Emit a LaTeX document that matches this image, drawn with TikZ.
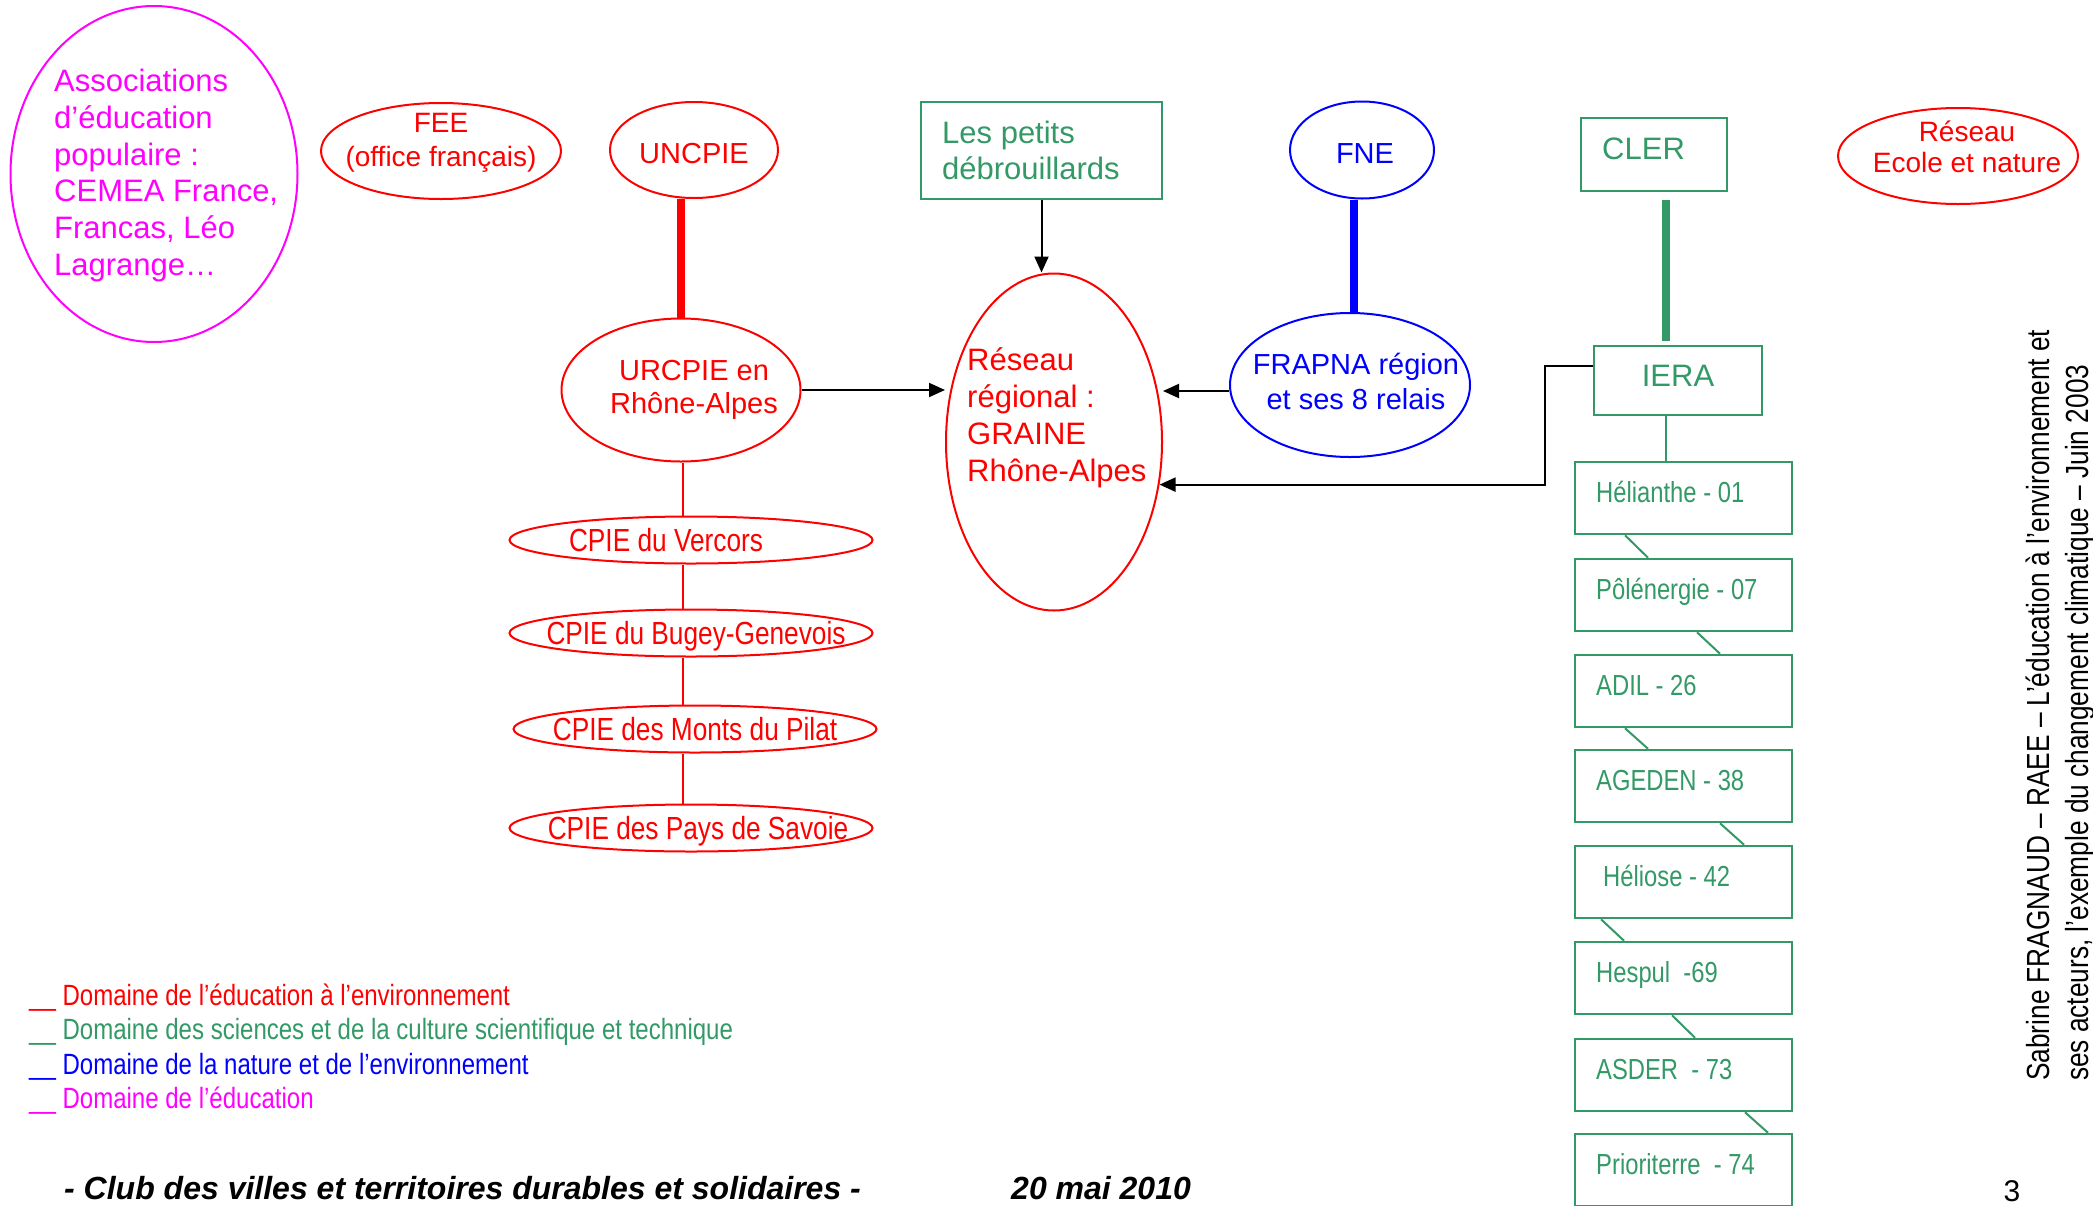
\documentclass[tikz,border=0pt]{standalone}
\usepackage{fontspec}
\setmainfont{Liberation Sans}
\newfontfamily\nar[FakeStretch=0.82]{Liberation Sans}
\usetikzlibrary{shapes.geometric,arrows.meta,calc}
\definecolor{cred}{HTML}{FF0000}
\definecolor{cmag}{HTML}{FF00FF}
\definecolor{cblue}{HTML}{0000FF}
\definecolor{cgrn}{HTML}{339966}
\begin{document}
\begin{tikzpicture}[x=1pt,y=-1pt,
  ell/.style={ellipse, draw, line width=2pt, inner sep=0pt},
  gbox/.style={rectangle, draw=cgrn, line width=2.5pt, inner sep=0pt},
  sbox/.style={gbox, minimum width=217pt, minimum height=72pt},
  txt/.style={inner sep=0pt},
  btxt/.style={txt, anchor=base west, text=cgrn, font=\nar\fontsize{29}{35}\selectfont},
  cpiet/.style={txt, anchor=base, text=cred, font=\nar\fontsize{32}{38}\selectfont},
  cpiee/.style={ell, draw=cred, minimum width=363pt, minimum height=47pt},
  legt/.style={txt, anchor=base west, font=\nar\fontsize{29.3}{35}\selectfont},
  conn/.style={line width=2pt},
  arr/.style={line width=2pt, -{Triangle[length=16pt,width=14pt]}},
  thickc/.style={line width=8pt}]

\fill[white] (0,0) rectangle (2093,1205);
\useasboundingbox (0,0) rectangle (2093,1205);

% --- Associations
\node[ell, draw=cmag, minimum width=287pt, minimum height=336pt] (asso) at (154,174) {};
\node[txt, anchor=west, align=left, text=cmag, font=\fontsize{31}{36.7}\selectfont] (assot) at (54,175.5)
  {Associations\\d’éducation\\populaire :\\CEMEA France,\\Francas, Léo\\Lagrange…};

% --- FEE
\node[ell, draw=cred, minimum width=240pt, minimum height=96pt] (fee) at (441,151) {};
\node[txt, align=center, text=cred, font=\fontsize{28}{34}\selectfont] (feet) at (441,143) {FEE\\(office français)};

% --- UNCPIE
\node[ell, draw=cred, minimum width=168pt, minimum height=96pt] (uncpie) at (694,150) {};
\node[txt, anchor=base, text=cred, font=\fontsize{29}{35}\selectfont] (uncpiet) at (694,163.4) {UNCPIE};

% --- URCPIE
\node[ell, draw=cred, minimum width=239pt, minimum height=143pt] (urcpie) at (681,390) {};
\node[txt, align=center, text=cred, font=\fontsize{29}{33}\selectfont] (urcpiet) at (694,389.5) {URCPIE en\\Rhône-Alpes};

% --- CPIE
\node[cpiee] (vercors) at (691,540) {};
\node[cpiet] (vercorst) at (666,551.5) {CPIE du Vercors};
\node[cpiee] (bugey) at (691,633) {};
\node[cpiet] (bugeyt) at (696,644.5) {CPIE du Bugey-Genevois};
\node[cpiee] (pilat) at (695,729) {};
\node[cpiet] (pilatt) at (695,740.5) {CPIE des Monts du Pilat};
\node[cpiee] (savoie) at (691,828) {};
\node[cpiet] (savoiet) at (698,839.5) {CPIE des Pays de Savoie};

% --- GRAINE
\node[ell, draw=cred, minimum width=216pt, minimum height=337pt] (graine) at (1054,442) {};
\node[txt, anchor=west, align=left, text=cred, font=\fontsize{31}{37}\selectfont] (grainet) at (967,417.8)
  {Réseau\\régional :\\GRAINE\\Rhône-Alpes};

% --- Les petits débrouillards
\node[gbox, minimum width=241pt, minimum height=97pt] (deb) at (1041.5,150.5) {};
\node[txt, anchor=west, align=left, text=cgrn, font=\fontsize{31}{36}\selectfont] (debt) at (942,150.5)
  {Les petits\\débrouillards};

% --- FNE
\node[ell, draw=cblue, minimum width=144pt, minimum height=97pt] (fne) at (1362,150) {};
\node[txt, anchor=base, text=cblue, font=\fontsize{29}{35}\selectfont] (fnet) at (1365,163.4) {FNE};

% --- FRAPNA
\node[ell, draw=cblue, minimum width=240pt, minimum height=144pt] (frapna) at (1350,385) {};
\node[txt, align=center, text=cblue, font=\fontsize{29}{35}\selectfont] (frapnat) at (1356,381)
  {FRAPNA région\\et ses 8 relais};

% --- CLER
\node[gbox, minimum width=146pt, minimum height=73pt] (cler) at (1654,154.5) {};
\node[txt, anchor=base west, text=cgrn, font=\fontsize{31}{37}\selectfont] (clert) at (1602,159) {CLER};

% --- IERA
\node[gbox, minimum width=168pt, minimum height=69pt] (iera) at (1678,380.5) {};
\node[txt, anchor=base, text=cgrn, font=\fontsize{31}{37}\selectfont] (ierat) at (1678,386) {IERA};

% --- Réseau Ecole et nature
\node[ell, draw=cred, minimum width=240pt, minimum height=96pt] (ecole) at (1958,156) {};
\node[txt, align=center, text=cred, font=\fontsize{28}{31}\selectfont] (ecolet) at (1967,147)
  {Réseau\\Ecole et nature};

% --- energy agencies
\node[sbox] (h1) at (1683.5,498) {};
\node[btxt] (h1t) at (1596,502) {Hélianthe - 01};
\node[sbox] (h2) at (1683.5,595) {};
\node[btxt] (h2t) at (1596,599) {Pôlénergie - 07};
\node[sbox] (h3) at (1683.5,691) {};
\node[btxt] (h3t) at (1596,695) {ADIL - 26};
\node[sbox] (h4) at (1683.5,786) {};
\node[btxt] (h4t) at (1596,790) {AGEDEN - 38};
\node[sbox] (h5) at (1683.5,882) {};
\node[btxt] (h5t) at (1603,886) {Héliose - 42};
\node[sbox] (h6) at (1683.5,978) {};
\node[btxt] (h6t) at (1596,982) {Hespul\ \ -69};
\node[sbox] (h7) at (1683.5,1075) {};
\node[btxt] (h7t) at (1596,1079) {ASDER\ \ - 73};
\node[sbox] (h8) at (1683.5,1170) {};
\node[btxt] (h8t) at (1596,1174) {Prioriterre\ \ - 74};

% --- connectors
\draw[cred, thickc] (uncpie.south -| urcpie.north) -- (urcpie.north);
\draw[cred, conn] ([xshift=2pt]urcpie.south) -- ([xshift=2pt]urcpie.south |- vercors.north);
\draw[cred, conn] ([xshift=2pt]urcpie.south |- vercors.south) -- ([xshift=2pt]urcpie.south |- bugey.north);
\draw[cred, conn] ([xshift=2pt]urcpie.south |- bugey.south) -- ([xshift=2pt]urcpie.south |- pilat.north);
\draw[cred, conn] ([xshift=2pt]urcpie.south |- pilat.south) -- ([xshift=2pt]urcpie.south |- savoie.north);

\draw[arr] (urcpie.east) -- (urcpie.east -| graine.west);
\draw[arr] ([yshift=-6pt]frapna.west) -- ([yshift=-6pt]frapna.west -| graine.east);
\draw[arr] (deb.south) -- (deb.south |- graine.north);
\draw[arr] ([yshift=14.5pt]iera.west) -- ++(-48,0) |- (graine.-22.9);

\draw[cblue, thickc] ([xshift=4pt]frapna.north |- fne.south) -- ([xshift=4pt]frapna.north);
\draw[cgrn, thickc] ([xshift=12pt,yshift=-8pt]cler.south) -- ([xshift=-12pt,yshift=4pt]iera.north);
\draw[cgrn, conn] ([xshift=-12pt]iera.south) -- ([xshift=-17.5pt]h1.north);

\draw[cgrn, conn] ([xshift=-58.5pt]h1.south) -- ([xshift=-35.5pt]h2.north);
\draw[cgrn, conn] ([xshift=13.5pt]h2.south) -- ([xshift=36.5pt]h3.north);
\draw[cgrn, conn] ([xshift=-58.5pt]h3.south) -- ([xshift=-35.5pt]h4.north);
\draw[cgrn, conn] ([xshift=36.5pt]h4.south) -- ([xshift=60.5pt]h5.north);
\draw[cgrn, conn] ([xshift=-82.5pt]h5.south) -- ([xshift=-59.5pt]h6.north);
\draw[cgrn, conn] ([xshift=-11.5pt]h6.south) -- ([xshift=11.5pt]h7.north);
\draw[cgrn, conn] ([xshift=61.5pt]h7.south) -- ([xshift=84.5pt]h8.north);

% --- legend
\node[legt, text=cred] (leg1) at (29,1005) {\_\_ Domaine de l’éducation à l’environnement};
\node[legt, text=cgrn] (leg2) at (29,1039.5) {\_\_ Domaine des sciences et de la culture scientifique et technique};
\node[legt, text=cblue] (leg3) at (29,1074) {\_\_ Domaine de la nature et de l’environnement};
\node[legt, text=cmag] (leg4) at (29,1108.5) {\_\_ Domaine de l’éducation};

% --- footer
\node[txt, anchor=base west, font=\fontsize{32}{38}\selectfont\bfseries\itshape] (foot) at (64,1199)
  {- Club des villes et territoires durables et solidaires -};
\node[txt, anchor=base west, font=\fontsize{32}{38}\selectfont\bfseries\itshape] (date) at (1011,1199) {20 mai 2010};
\node[txt, anchor=base, font=\fontsize{30}{36}\selectfont] (pnum) at (2012,1201) {3};

% --- side text
\node[txt, rotate=90, anchor=base west, font=\nar\fontsize{32}{38}\selectfont] (side1) at (2049,1081)
  {Sabrine FRAGNAUD – RAEE – L’éducation à l’environnement et};
\node[txt, rotate=90, anchor=base west, font=\nar\fontsize{32}{38}\selectfont] (side2) at (2088,1081)
  {ses acteurs, l’exemple du changement climatique – Juin 2003};
\end{tikzpicture}
\end{document}
